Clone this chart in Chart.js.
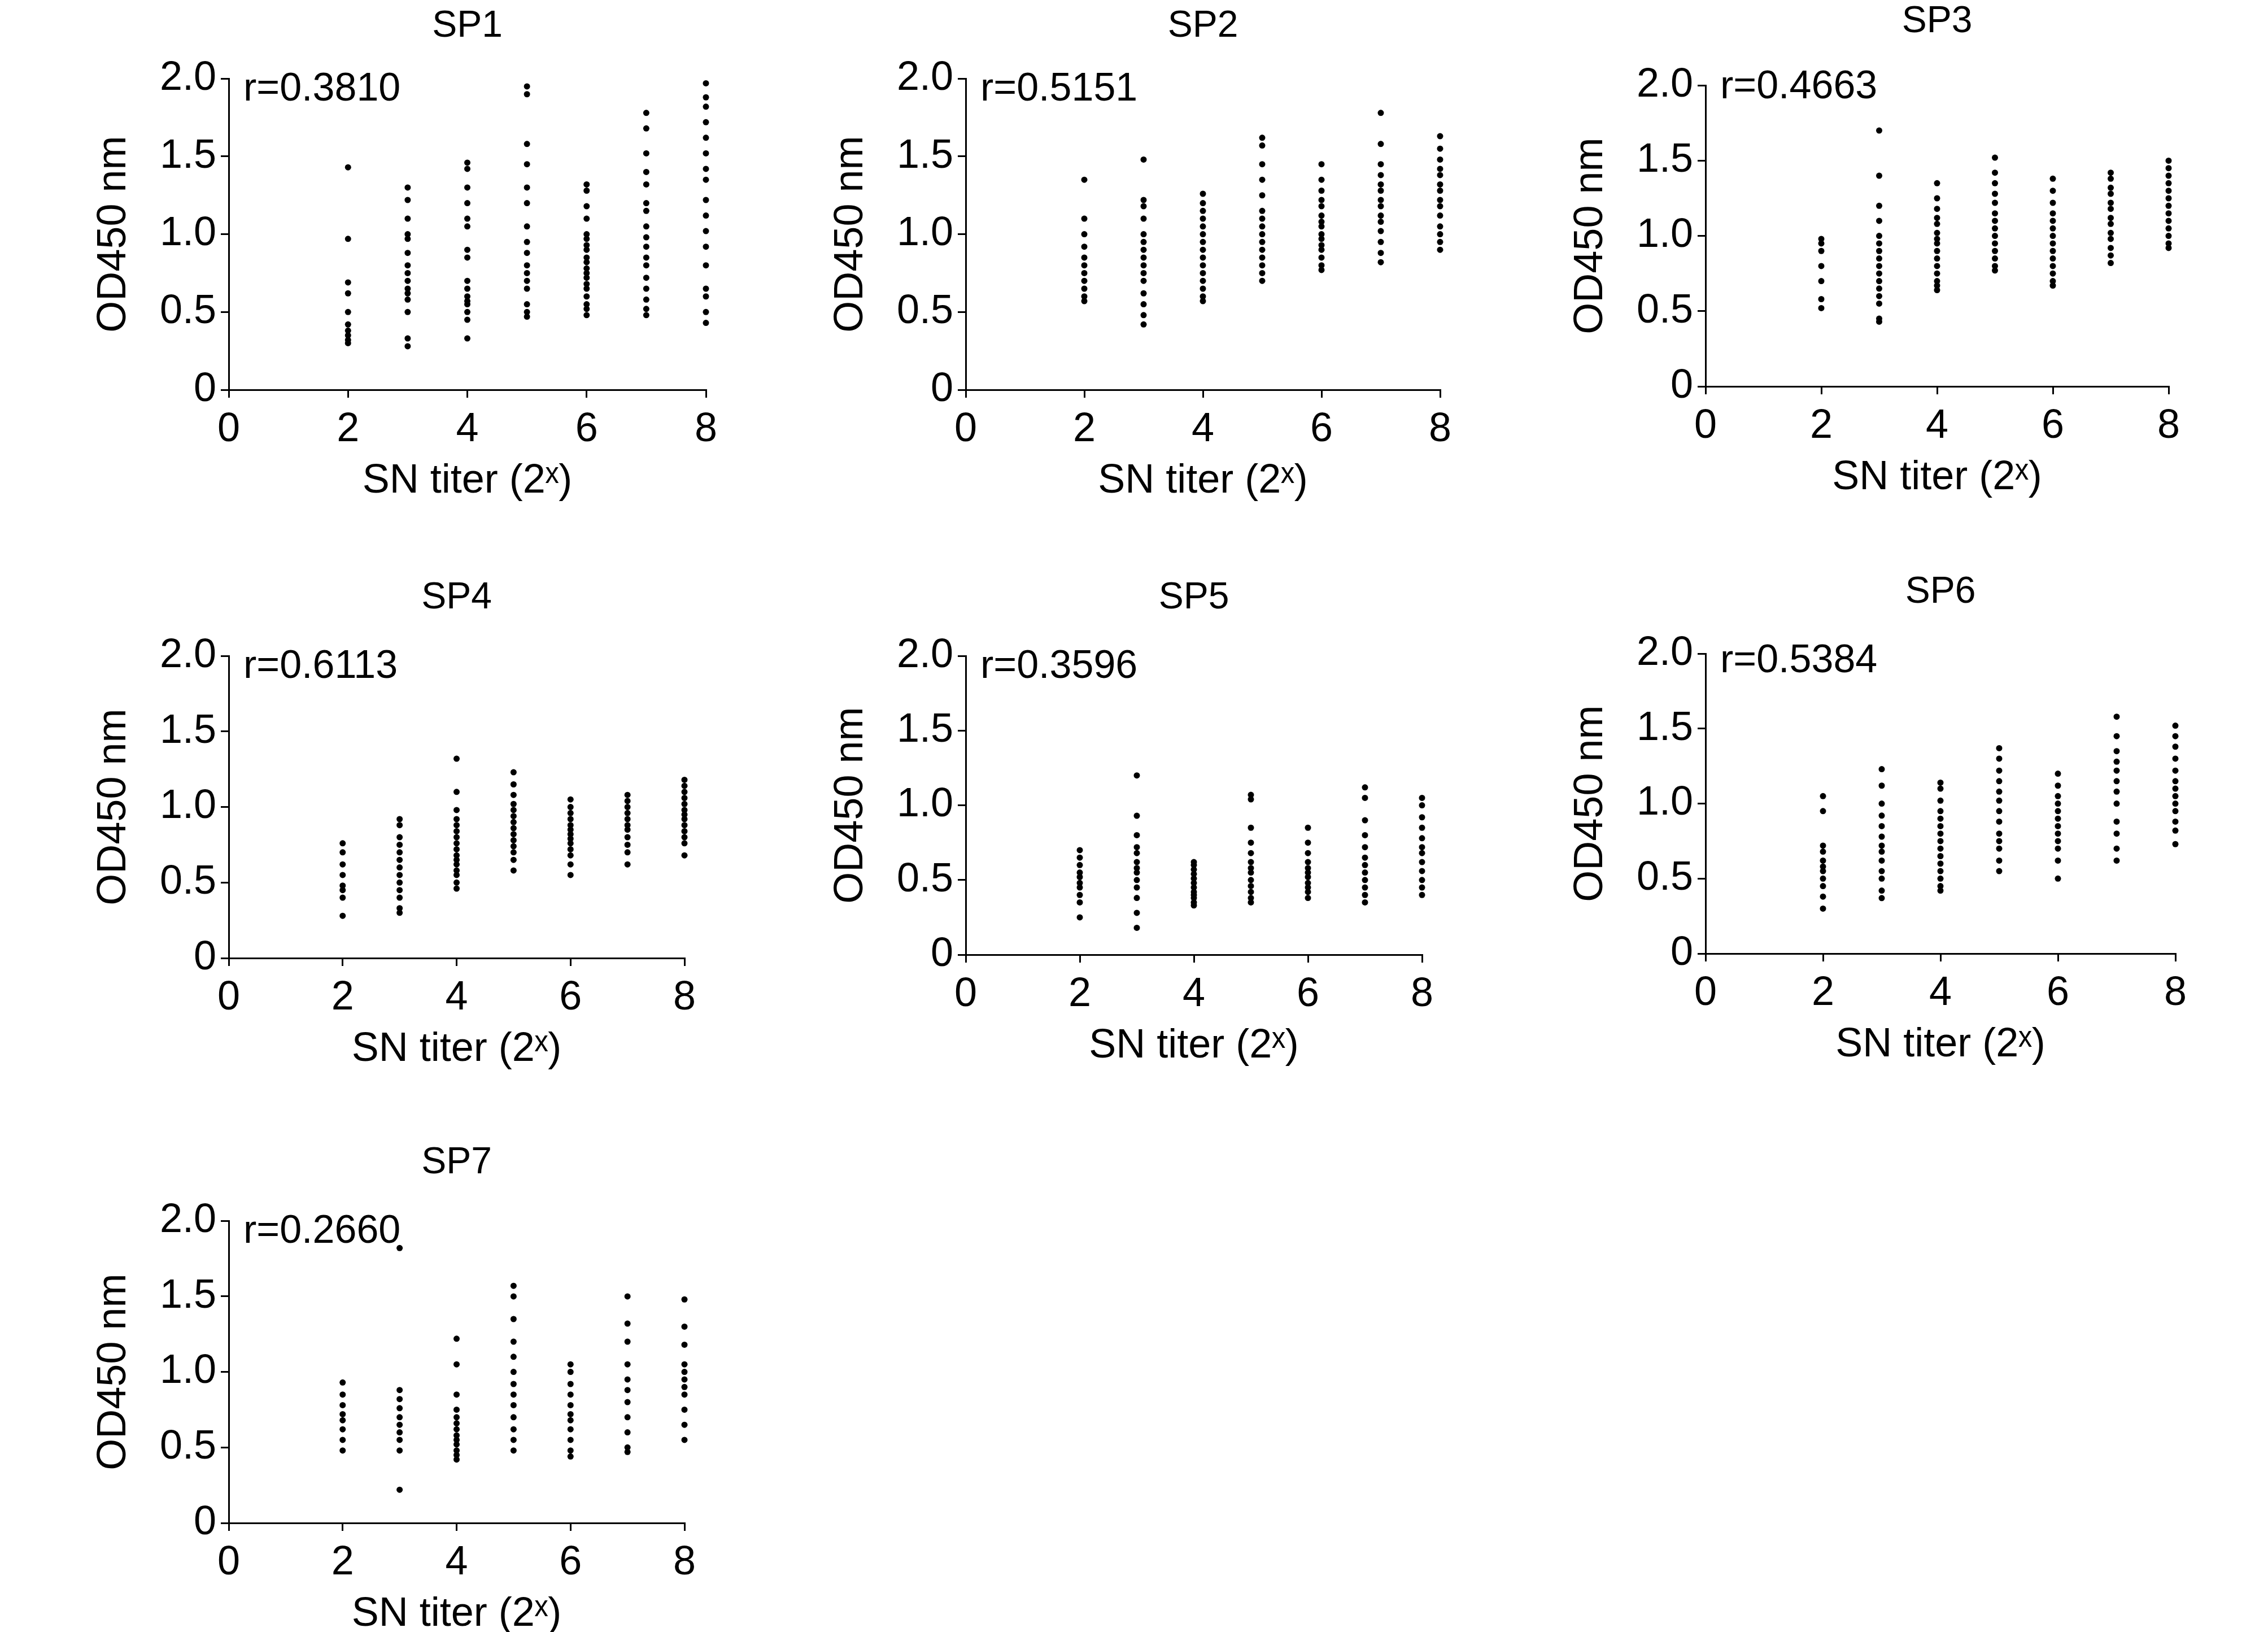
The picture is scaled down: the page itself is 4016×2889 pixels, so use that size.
<!DOCTYPE html>
<html>
<head>
<meta charset="utf-8">
<script src="https://cdn.jsdelivr.net/npm/chart.js@4/dist/chart.umd.min.js"></script>
<style>
  html, body { margin: 0; padding: 0; background: #fff; }
  body { width: 4016px; height: 2889px; position: relative; overflow: hidden; font-family: Arial, "Liberation Sans", sans-serif; }
  canvas { position: absolute; }
  .ttl { position: absolute; font-size: 66px; color: #000; transform: translateX(-50%); white-space: nowrap; }
  .rv { position: absolute; font-size: 70px; color: #000; white-space: nowrap; }
</style>
</head>
<body>
<script>
// SN titer values (x positions of the columns)
const titers = [2, 3, 4, 5, 6, 7, 8];
const xTicks = [0, 2, 4, 6, 8];
const yTicks = [0, 0.5, 1.0, 1.5, 2.0];

// OD450 readings per titer column, one array per panel
const sp1 = [
  [1.43,0.97,0.69,0.62,0.50,0.42,0.38,0.35,0.32,0.30],
  [1.30,1.22,1.10,1.0,0.97,0.88,0.80,0.75,0.70,0.65,0.62,0.58,0.50,0.33,0.28],
  [1.46,1.42,1.30,1.20,1.10,1.05,0.90,0.85,0.70,0.65,0.60,0.57,0.55,0.50,0.45,0.33],
  [1.95,1.90,1.58,1.45,1.30,1.20,1.05,0.95,0.88,0.80,0.75,0.70,0.65,0.55,0.50,0.47],
  [1.32,1.28,1.18,1.10,1.0,0.97,0.93,0.90,0.85,0.82,0.78,0.75,0.72,0.68,0.65,0.60,0.55,0.52,0.48],
  [1.78,1.68,1.52,1.40,1.32,1.20,1.15,1.05,0.98,0.92,0.85,0.80,0.72,0.65,0.58,0.52,0.48],
  [1.97,1.88,1.82,1.72,1.62,1.52,1.42,1.35,1.22,1.12,1.02,0.92,0.80,0.65,0.60,0.50,0.43]
];
const sp2 = [
  [1.35,1.10,1.0,0.92,0.85,0.80,0.75,0.70,0.65,0.60,0.57],
  [1.48,1.22,1.18,1.10,1.0,0.95,0.90,0.85,0.80,0.75,0.70,0.62,0.55,0.48,0.42],
  [1.26,1.20,1.15,1.10,1.05,1.0,0.95,0.90,0.85,0.80,0.75,0.70,0.65,0.60,0.57],
  [1.62,1.57,1.45,1.35,1.25,1.15,1.10,1.05,1.0,0.95,0.90,0.85,0.80,0.75,0.70],
  [1.45,1.35,1.28,1.22,1.18,1.12,1.08,1.05,1.0,0.97,0.93,0.90,0.85,0.80,0.77],
  [1.78,1.58,1.45,1.38,1.32,1.28,1.22,1.18,1.12,1.08,1.02,0.95,0.88,0.82],
  [1.63,1.55,1.48,1.42,1.38,1.32,1.28,1.22,1.18,1.12,1.05,1.0,0.95,0.90]
];
const sp3 = [
  [0.98,0.95,0.90,0.80,0.70,0.58,0.52],
  [1.70,1.40,1.20,1.10,1.0,0.95,0.90,0.85,0.80,0.75,0.70,0.65,0.60,0.55,0.45,0.43],
  [1.35,1.25,1.18,1.12,1.08,1.02,0.98,0.95,0.90,0.85,0.80,0.75,0.70,0.67,0.64],
  [1.52,1.42,1.35,1.28,1.22,1.15,1.10,1.05,1.0,0.95,0.90,0.85,0.80,0.77],
  [1.38,1.30,1.22,1.15,1.10,1.05,1.0,0.95,0.90,0.85,0.80,0.75,0.70,0.67],
  [1.42,1.38,1.32,1.28,1.22,1.18,1.12,1.08,1.02,0.98,0.92,0.87,0.82],
  [1.50,1.45,1.40,1.35,1.30,1.25,1.20,1.15,1.10,1.05,1.0,0.95,0.92]
];
const sp4 = [
  [0.76,0.70,0.62,0.55,0.48,0.45,0.40,0.28],
  [0.92,0.88,0.80,0.75,0.70,0.65,0.60,0.55,0.50,0.45,0.40,0.33,0.30],
  [1.32,1.10,0.98,0.92,0.88,0.84,0.80,0.76,0.72,0.68,0.65,0.62,0.58,0.55,0.50,0.46],
  [1.23,1.15,1.08,1.02,0.98,0.94,0.90,0.86,0.82,0.78,0.74,0.70,0.65,0.58],
  [1.05,1.0,0.96,0.92,0.88,0.85,0.82,0.79,0.76,0.72,0.68,0.62,0.55],
  [1.08,1.04,1.0,0.96,0.92,0.88,0.85,0.80,0.75,0.70,0.62],
  [1.18,1.14,1.10,1.06,1.02,0.98,0.95,0.92,0.88,0.84,0.80,0.76,0.68]
];
const sp5 = [
  [0.70,0.65,0.60,0.55,0.52,0.48,0.45,0.40,0.35,0.25],
  [1.20,0.93,0.80,0.72,0.68,0.62,0.58,0.55,0.50,0.45,0.38,0.28,0.18],
  [0.62,0.60,0.57,0.54,0.51,0.48,0.45,0.42,0.40,0.38,0.35,0.33],
  [1.07,1.04,0.85,0.75,0.68,0.62,0.58,0.55,0.50,0.46,0.42,0.38,0.35],
  [0.85,0.75,0.68,0.62,0.58,0.55,0.52,0.48,0.45,0.42,0.38],
  [1.12,1.05,0.90,0.80,0.72,0.65,0.60,0.55,0.50,0.45,0.40,0.35],
  [1.05,1.0,0.92,0.85,0.78,0.72,0.68,0.62,0.56,0.50,0.45,0.40]
];
const sp6 = [
  [1.05,0.95,0.72,0.68,0.62,0.58,0.55,0.50,0.45,0.38,0.30],
  [1.23,1.12,1.0,0.92,0.85,0.78,0.72,0.68,0.62,0.55,0.50,0.42,0.37],
  [1.14,1.10,1.02,0.95,0.90,0.85,0.80,0.75,0.70,0.65,0.60,0.55,0.50,0.45,0.42],
  [1.37,1.30,1.22,1.15,1.08,1.02,0.95,0.88,0.80,0.75,0.70,0.62,0.55],
  [1.20,1.12,1.05,1.0,0.95,0.90,0.85,0.80,0.75,0.70,0.62,0.50],
  [1.58,1.45,1.35,1.28,1.22,1.15,1.08,1.0,0.88,0.80,0.70,0.62],
  [1.52,1.45,1.38,1.30,1.22,1.15,1.10,1.05,1.0,0.95,0.88,0.82,0.73]
];
const sp7 = [
  [0.93,0.85,0.78,0.72,0.68,0.62,0.55,0.48],
  [1.82,0.88,0.82,0.76,0.70,0.65,0.60,0.55,0.48,0.22],
  [1.22,1.05,0.85,0.75,0.70,0.66,0.62,0.58,0.55,0.52,0.48,0.45,0.42],
  [1.57,1.50,1.35,1.20,1.10,1.0,0.92,0.85,0.78,0.70,0.62,0.55,0.48],
  [1.05,1.0,0.92,0.85,0.78,0.72,0.68,0.62,0.55,0.48,0.44],
  [1.50,1.32,1.20,1.05,0.95,0.88,0.80,0.70,0.60,0.50,0.47],
  [1.48,1.30,1.18,1.05,1.0,0.95,0.90,0.85,0.75,0.65,0.55]
];

const panelNames = ['SP1', 'SP2', 'SP3', 'SP4', 'SP5', 'SP6', 'SP7'];
const rValues = ['r=0.3810', 'r=0.5151', 'r=0.4663', 'r=0.6113', 'r=0.3596', 'r=0.5384', 'r=0.2660'];
const panelData = [sp1, sp2, sp3, sp4, sp5, sp6, sp7];

// plot-area boxes [left, top, right, bottom, titleY, rOffsetY]
const boxes = [
  [405, 128, 1250, 690, 4, -14],
  [1710, 128, 2550, 690, 4, -14],
  [3020, 140, 3840, 684, -4, -30],
  [405, 1150, 1212, 1696, 1016, -14],
  [1710, 1150, 2518, 1690, 1016, -14],
  [3020, 1146, 3852, 1688, 1006, -20],
  [405, 2150, 1212, 2696, 2016, -14]
];

const YW = 250, XH = 205, PT = 40, PR = 60;
const font = { family: 'Arial, "Liberation Sans", sans-serif', size: 72 };

panelData.forEach((cols, i) => {
  const [l, t, r, b, ty, ry] = boxes[i];
  const pts = [];
  cols.forEach((vals, j) => vals.forEach(v => pts.push({ x: titers[j], y: v })));

  const cv = document.createElement('canvas');
  const w = (r - l) + YW + PR, h = (b - t) + PT + XH;
  cv.width = w; cv.height = h;
  cv.style.left = (l - YW) + 'px';
  cv.style.top = (t - PT) + 'px';
  cv.style.width = w + 'px'; cv.style.height = h + 'px';
  document.body.appendChild(cv);

  const ttl = document.createElement('div');
  ttl.className = 'ttl';
  ttl.textContent = panelNames[i];
  ttl.style.left = ((l + r) / 2) + 'px';
  ttl.style.top = ty + 'px';
  document.body.appendChild(ttl);

  const rv = document.createElement('div');
  rv.className = 'rv';
  rv.textContent = rValues[i];
  rv.style.left = (l + 26) + 'px';
  rv.style.top = (t + ry) + 'px';
  document.body.appendChild(rv);

  new Chart(cv.getContext('2d'), {
    type: 'scatter',
    data: { datasets: [{ data: pts, pointRadius: 5.5, pointBackgroundColor: '#000', pointBorderWidth: 0, clip: false }] },
    options: {
      responsive: false, animation: false, devicePixelRatio: 1,
      layout: { padding: { top: PT, right: PR, left: 0, bottom: 0 } },
      plugins: { legend: { display: false }, tooltip: { enabled: false } },
      scales: {
        x: {
          type: 'linear', min: 0, max: 8,
          afterFit: s => { s.height = XH; },
          afterBuildTicks: s => { s.ticks = xTicks.map(v => ({ value: v })); },
          grid: { drawOnChartArea: false, drawTicks: true, tickLength: 14, color: '#000', lineWidth: 3 },
          border: { color: '#000', width: 3 },
          ticks: { color: '#000', font, padding: 14, maxRotation: 0 },
          title: { display: true, text: 'SN titer (2ˣ)', color: '#000', font, padding: { top: 0, bottom: 0 } }
        },
        y: {
          min: 0, max: 2,
          afterFit: s => { s.width = YW; },
          afterBuildTicks: s => { s.ticks = yTicks.map(v => ({ value: v })); },
          grid: { drawOnChartArea: false, drawTicks: true, tickLength: 14, color: '#000', lineWidth: 3 },
          border: { color: '#000', width: 3 },
          ticks: { color: '#000', font, padding: 8, callback: v => v === 0 ? '0' : v.toFixed(1) },
          title: { display: true, text: 'OD450 nm', color: '#000', font, padding: { bottom: 0 } }
        }
      }
    }
  });
});
</script>
</body>
</html>
